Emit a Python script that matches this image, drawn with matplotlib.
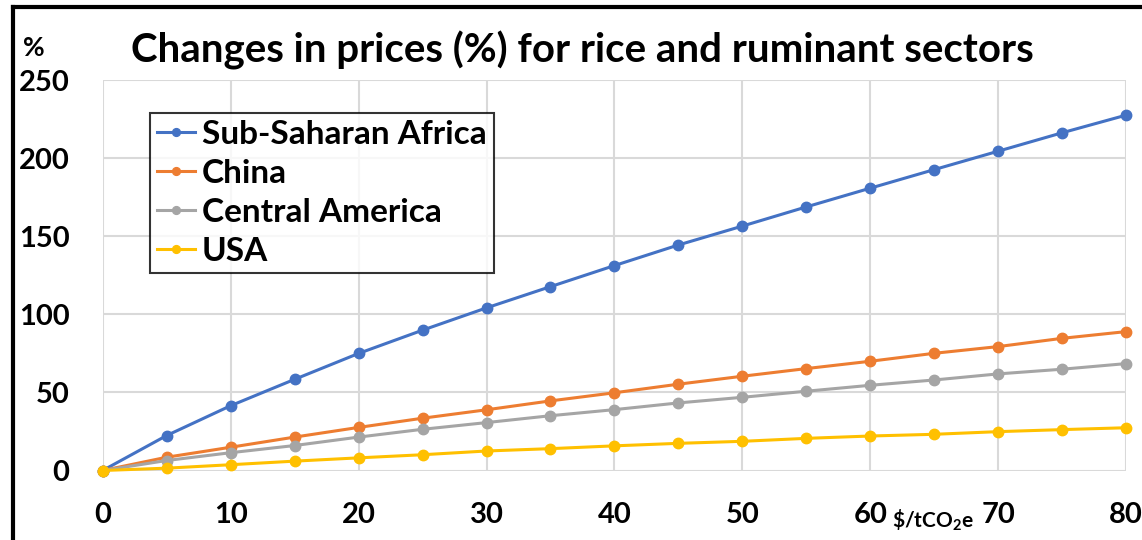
import matplotlib
matplotlib.use("Agg")
import matplotlib.pyplot as plt
from matplotlib.lines import Line2D

carbon_price = [0, 5, 10, 15, 20, 25, 30, 35, 40, 45, 50, 55, 60, 65, 70, 75, 80]

series_names = ["Sub-Saharan Africa", "China", "Central America", "USA"]
ssa = [0, 22.4, 41.5, 58.4, 75.0, 89.9, 104.2, 117.8, 131.3, 144.5, 156.6,
       168.9, 180.9, 192.8, 204.6, 216.4, 227.7]
china = [0, 8.5, 14.9, 21.4, 27.6, 33.5, 38.9, 44.6, 49.8, 55.3, 60.4,
         65.3, 70.0, 75.1, 79.4, 84.7, 89.0]
central_america = [0, 6.4, 11.4, 16.0, 21.4, 26.4, 30.7, 35.1, 39.0, 43.3, 46.9,
                   50.8, 54.6, 58.0, 61.9, 64.9, 68.5]
usa = [0, 1.5, 3.7, 6.0, 8.1, 10.1, 12.5, 14.0, 15.8, 17.4, 18.7,
       20.6, 22.1, 23.2, 24.9, 26.2, 27.4]

x_ticks = [0, 10, 20, 30, 40, 50, 60, 70, 80]
y_ticks = [0, 50, 100, 150, 200, 250]

colors = ["#4472C4", "#ED7D31", "#A5A5A5", "#FFC000"]

plt.rcParams["font.family"] = ["Lato", "DejaVu Sans"]
plt.rcParams["font.weight"] = "bold"
plt.rcParams["mathtext.fontset"] = "custom"
plt.rcParams["mathtext.rm"] = "Lato:bold"
plt.rcParams["mathtext.it"] = "Lato:bold"
plt.rcParams["mathtext.bf"] = "Lato:bold"
plt.rcParams["mathtext.default"] = "rm"

fig = plt.figure(figsize=(11.42, 5.40), dpi=100)
ax = fig.add_axes([0.0899, 0.1287, 0.8963, 0.7226])

for name, vals, c in zip(series_names, [ssa, china, central_america, usa], colors):
    ax.plot(carbon_price, vals, color=c, lw=2.2, marker="o", markersize=7.5,
            label=name, clip_on=False, zorder=3)

ax.set_xlim(0, 80)
ax.set_ylim(0, 250)
ax.set_xticks(x_ticks)
ax.set_yticks(y_ticks)
ax.tick_params(axis="both", length=0, labelsize=21)
ax.tick_params(axis="x", pad=23)
ax.tick_params(axis="y", pad=24)
for lab in ax.get_xticklabels() + ax.get_yticklabels():
    lab.set_fontweight("bold")

ax.grid(True, color="#D9D9D9", lw=1.5)
ax.set_axisbelow(True)
for s in ax.spines.values():
    s.set_visible(False)

leg = ax.legend(loc="upper left", bbox_to_anchor=(0.046, 0.917), fontsize=24,
                frameon=True, fancybox=False, edgecolor="black",
                handlelength=1.15, handletextpad=0.2, labelspacing=0.3,
                borderpad=0.22, borderaxespad=0, markerscale=0.75)
leg.get_frame().set_linewidth(1.5)
for t in leg.get_texts():
    t.set_fontweight("bold")

fig.text(0.510, 0.907, "Changes in prices (%) for rice and ruminant sectors",
         ha="center", va="center", fontsize=29, fontweight="bold")
fig.text(0.020, 0.912, "%", ha="left", va="center", fontsize=19, fontweight="bold")
fig.text(0.817, 0.037, r"\$/tCO$_2$e", ha="center", va="center", fontsize=15,
         fontweight="bold")

# frame around the figure (left and top edges)
fig.add_artist(Line2D([0.011, 0.011], [0.0, 0.987], transform=fig.transFigure,
                      color="black", lw=3))
fig.add_artist(Line2D([0.011, 1.0], [0.987, 0.987], transform=fig.transFigure,
                      color="black", lw=3))

fig.savefig("out.png", dpi=100)
